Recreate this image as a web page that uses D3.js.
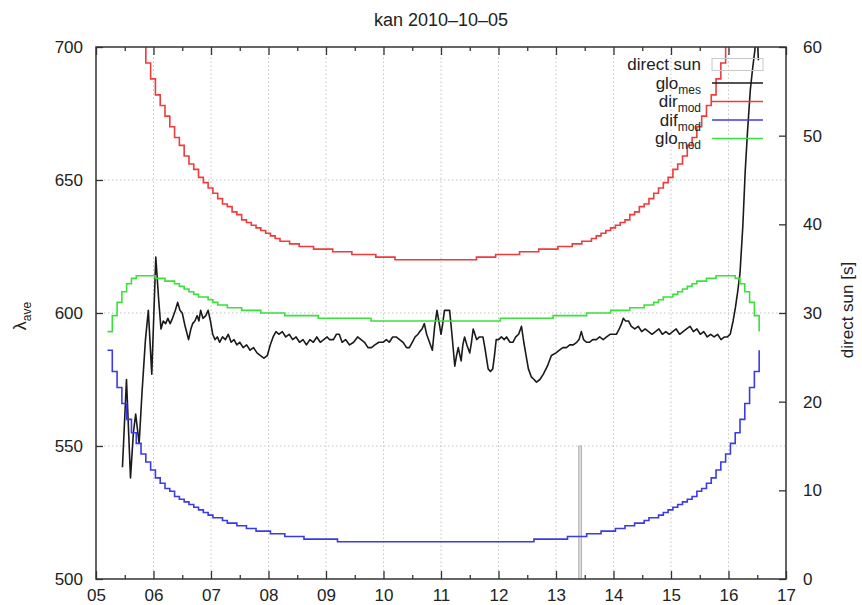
<!DOCTYPE html>
<html>
<head>
<meta charset="utf-8">
<script src="https://cdn.jsdelivr.net/npm/d3@7/dist/d3.min.js"></script>
<style>
  body { margin: 0; background: #fff; }
  svg { display: block; font-family: "Liberation Sans", Arial, sans-serif; }
</style>
</head>
<body>
<svg id="chart" width="862" height="605"></svg>
<script>
// --- data ---
const title = "kan 2010–10–05";
const xTicks = [5, 6, 7, 8, 9, 10, 11, 12, 13, 14, 15, 16, 17];
const leftTicks = [500, 550, 600, 650, 700];
const rightTicks = [0, 10, 20, 30, 40, 50, 60];

// model curves: one value every 5 minutes from 05:12
const modelStart = 5.2;
const modelStepMinutes = 5;
const dirMod = [785,768,753,740,728,718,709,701,694,688,682,678,674,670,666,663,659,656,654,651,649,647,645,643,641,640,638,637,635,634,633,632,631,630,629,628,627,627,626,626,625,625,625,624,624,624,624,623,623,623,623,622,622,622,622,622,621,621,621,621,620,620,620,620,620,620,620,620,620,
  620,620,620,620,620,620,620,620,621,621,621,621,622,622,622,622,622,623,623,623,623,624,624,624,624,625,625,625,626,626,627,627,628,629,630,631,632,633,634,635,637,638,640,641,643,645,647,649,651,654,656,659,663,666,670,674,678,682,688,694,701,709,718,728,740,753,768,785];
const difMod = [586,578,572,566,560,555,551,547,544,541,538,536,534,533,531,530,529,528,527,526,525,524,523,523,522,521,521,520,520,519,519,518,518,518,517,517,517,516,516,516,516,515,515,515,515,515,515,515,514,514,514,514,514,514,514,514,514,514,514,514,514,514,514,514,514,514,514,514,514,
  514,514,514,514,514,514,514,514,514,514,514,514,514,514,514,514,514,514,514,514,515,515,515,515,515,515,515,516,516,516,516,517,517,517,518,518,518,519,519,520,520,521,521,522,523,523,524,525,526,527,528,529,530,531,533,534,536,538,541,544,547,551,555,560,566,572,578,586];
const gloMod = [593,599,604,608,611,613,614,614,614,614,613,613,612,612,611,610,609,608,607,606,606,605,604,603,603,602,602,602,601,601,601,601,600,600,600,600,600,599,599,599,599,599,599,599,598,598,598,598,598,598,598,598,598,598,598,597,597,597,597,597,597,597,597,597,597,597,597,597,597,
  597,597,597,597,597,597,597,597,597,597,597,597,597,598,598,598,598,598,598,598,598,598,598,598,599,599,599,599,599,599,599,600,600,600,600,600,601,601,601,601,602,602,602,603,603,604,605,606,606,607,608,609,610,611,612,612,613,613,614,614,614,614,613,611,608,604,599,593];

// measured global
const gloMesHours = [5.46,5.53,5.60,5.65,5.69,5.75,5.80,5.86,5.91,5.97,6.04,6.09,6.13,6.17,6.21,6.25,6.29,6.33,6.38,6.42,6.46,6.50,6.55,6.61,6.65,6.68,6.72,6.76,6.79,6.82,6.86,6.91,6.95,6.99,
  7.03,7.07,7.11,7.15,7.20,7.25,7.30,7.35,7.40,7.45,7.50,7.56,7.62,7.68,7.74,7.80,7.86,7.92,7.98,8.03,8.08,8.13,8.18,8.24,8.30,8.36,8.42,8.48,8.54,8.60,8.66,8.72,8.78,8.84,8.90,8.96,
  9.02,9.06,9.13,9.18,9.23,9.28,9.34,9.41,9.48,9.55,9.61,9.67,9.73,9.79,9.85,9.92,9.99,10.05,10.10,10.16,10.22,10.28,10.34,10.40,10.45,10.50,10.55,10.60,10.63,10.67,10.71,10.75,10.80,10.85,10.89,10.93,10.97,
  11.00,11.03,11.06,11.10,11.15,11.19,11.24,11.27,11.30,11.33,11.35,11.38,11.41,11.45,11.50,11.53,11.56,11.59,11.62,11.67,11.73,11.77,11.82,11.86,11.90,11.93,11.96,
  12.00,12.05,12.10,12.14,12.20,12.25,12.30,12.35,12.40,12.44,12.48,12.52,12.57,12.62,12.66,12.72,12.78,12.85,12.92,13.00,13.06,13.12,13.18,13.24,13.30,13.36,13.40,13.44,13.48,13.53,13.58,13.64,13.70,13.76,13.82,13.88,13.94,
  14.00,14.05,14.10,14.14,14.17,14.21,14.26,14.31,14.37,14.43,14.49,14.55,14.61,14.67,14.73,14.79,14.85,14.91,14.97,15.03,15.09,15.15,15.21,15.27,15.33,15.39,15.45,15.51,15.57,15.63,15.69,15.75,15.81,15.87,15.93,15.98,
  16.03,16.08,16.12,16.16,16.20,16.25,16.29,16.33,16.38,16.42,16.46,16.48,16.50,16.52];
const gloMesValues = [542,575,538,555,562,551,570,590,601,577,621,605,594,597,596,598,596,598,601,604,601,600,595,590,594,596,597,599,597,601,598,599,601,597,
  592,590,591,589,591,590,592,589,590,588,589,587,588,586,587,585,584,583,584,588,591,593,592,593,591,592,590,591,589,590,588,590,589,591,589,590,
  591,590,590,592,592,589,590,588,589,591,590,589,587,587,588,589,589,590,589,591,591,590,589,587,587,589,591,592,593,594,596,592,589,586,595,601,596,
  592,596,601,601,601,592,580,584,587,584,582,588,591,588,585,589,594,592,590,591,591,586,579,578,579,584,590,
  590,591,590,591,589,589,591,592,595,589,584,579,576,575,574,575,577,580,584,585,586,587,587,588,588,589,590,593,590,589,589,590,590,591,590,591,592,
  592,592,594,596,598,597,597,595,594,595,593,594,593,592,593,594,592,593,592,593,594,592,593,594,595,593,594,592,593,591,592,591,592,590,591,591,
  592,597,602,608,615,633,653,668,684,692,699,712,704,695];

// direct sun duration [s]
const directSunHours = [13.42];
const directSunSeconds = [15];

const legendItems = [
  { name: "direct sun", sub: "", color: "#c8c8c8" },
  { name: "glo", sub: "mes", color: "#1a1a1a" },
  { name: "dir", sub: "mod", color: "#ee3b3b" },
  { name: "dif", sub: "mod", color: "#3b3be6" },
  { name: "glo", sub: "mod", color: "#3be03b" }
];

// --- layout ---
const margin = { top: 47, right: 76, bottom: 26, left: 96 };
const W = 862, H = 605;
const svg = d3.select("#chart");

const x = d3.scaleLinear().domain([5, 17]).range([margin.left, W - margin.right]);
const y = d3.scaleLinear().domain([500, 700]).range([H - margin.bottom, margin.top]);
const y2 = d3.scaleLinear().domain([0, 60]).range([H - margin.bottom, margin.top]);

const modelHours = dirMod.map((_, i) => modelStart + i * modelStepMinutes / 60);

svg.append("defs").append("clipPath").attr("id", "plot-clip")
  .append("rect")
  .attr("x", x(5)).attr("y", y(700))
  .attr("width", x(17) - x(5)).attr("height", y(500) - y(700));

// grid
const grid = svg.append("g").attr("stroke", "#c4c4c4").attr("stroke-width", 1)
  .attr("stroke-dasharray", "1.5,2.5");
grid.selectAll("line.gx").data(xTicks.slice(1, -1)).join("line")
  .attr("x1", d => x(d)).attr("x2", d => x(d))
  .attr("y1", y(500)).attr("y2", y(700));
grid.selectAll("line.gy").data(leftTicks.slice(1, -1)).join("line")
  .attr("x1", x(5)).attr("x2", x(17))
  .attr("y1", d => y(d)).attr("y2", d => y(d));

const plot = svg.append("g").attr("clip-path", "url(#plot-clip)");

// direct sun boxes
const barHalf = 0.025;
plot.selectAll("rect.sun").data(directSunHours).join("rect")
  .attr("x", d => x(d - barHalf))
  .attr("width", d => x(d + barHalf) - x(d - barHalf))
  .attr("y", (d, i) => y2(directSunSeconds[i]))
  .attr("height", (d, i) => y2(0) - y2(directSunSeconds[i]))
  .attr("fill", "#dadada").attr("stroke", "#b4b4b4").attr("stroke-width", 1);

// measured line
const mesLine = d3.line().x((d, i) => x(gloMesHours[i])).y(d => y(d));
plot.append("path").datum(gloMesValues)
  .attr("d", mesLine).attr("fill", "none")
  .attr("stroke", legendItems[1].color).attr("stroke-width", 1.6)
  .attr("stroke-linejoin", "round");

// model step lines
const stepLine = d3.line().curve(d3.curveStepAfter)
  .x((d, i) => x(modelHours[i])).y(d => y(d));
[[dirMod, 2], [difMod, 3], [gloMod, 4]].forEach(([vals, k]) => {
  plot.append("path").datum(vals)
    .attr("d", stepLine).attr("fill", "none")
    .attr("stroke", legendItems[k].color).attr("stroke-width", 1.6);
});

// axes
const fmt = d3.format("02d");
const halfHours = xTicks.slice(0, -1).map(d => d + 0.5);
const axBottom = svg.append("g").attr("transform", `translate(0,${y(500)})`)
  .call(d3.axisBottom(x).tickValues(xTicks).tickSize(-8).tickPadding(10).tickFormat(fmt));
const axBottomMinor = svg.append("g").attr("transform", `translate(0,${y(500)})`)
  .call(d3.axisBottom(x).tickValues(halfHours).tickSize(-4).tickFormat(""));
const axTop = svg.append("g").attr("transform", `translate(0,${y(700)})`)
  .call(d3.axisTop(x).tickValues(xTicks).tickSize(-8).tickFormat(""));
const axTopMinor = svg.append("g").attr("transform", `translate(0,${y(700)})`)
  .call(d3.axisTop(x).tickValues(halfHours).tickSize(-4).tickFormat(""));
const axLeft = svg.append("g").attr("transform", `translate(${x(5)},0)`)
  .call(d3.axisLeft(y).tickValues(leftTicks).tickSize(-7).tickPadding(13));
const axRight = svg.append("g").attr("transform", `translate(${x(17)},0)`)
  .call(d3.axisRight(y2).tickValues(rightTicks).tickSize(-7).tickPadding(17));

[axBottom, axBottomMinor, axTop, axTopMinor, axLeft, axRight].forEach(g => {
  g.select(".domain").remove();
  g.selectAll(".tick line").attr("stroke", "#333").attr("stroke-width", 1.3);
  g.selectAll(".tick text").attr("font-size", 17).attr("fill", "#222")
    .attr("font-family", "Liberation Sans, Arial, sans-serif");
});

// border
svg.append("rect")
  .attr("x", x(5)).attr("y", y(700))
  .attr("width", x(17) - x(5)).attr("height", y(500) - y(700))
  .attr("fill", "none").attr("stroke", "#333").attr("stroke-width", 1.5);

// title and axis labels
svg.append("text").attr("x", (x(5) + x(17)) / 2).attr("y", 26)
  .attr("text-anchor", "middle").attr("font-size", 18).attr("fill", "#222")
  .text(title);

const yl = svg.append("text")
  .attr("transform", `translate(26,${(y(500) + y(700)) / 2 + 3}) rotate(-90)`)
  .attr("text-anchor", "middle").attr("font-size", 18).attr("fill", "#222");
yl.append("tspan").text("λ");
yl.append("tspan").attr("dy", 5).attr("font-size", 12).text("ave");

svg.append("text")
  .attr("transform", `translate(853,${(y(500) + y(700)) / 2 - 3}) rotate(-90)`)
  .attr("text-anchor", "middle").attr("font-size", 17).attr("fill", "#222")
  .text("direct sun [s]");

// legend
const legend = svg.append("g");
const rowY = i => 64.5 + i * 18.5;
legendItems.forEach((item, i) => {
  const t = legend.append("text")
    .attr("x", 701).attr("y", rowY(i) + 5.5)
    .attr("text-anchor", "end").attr("font-size", 17).attr("fill", "#222");
  t.append("tspan").text(item.name);
  if (item.sub) t.append("tspan").attr("dy", 5).attr("font-size", 12).text(item.sub);
  if (i === 0) {
    legend.append("rect").attr("x", 712).attr("y", rowY(i) - 6)
      .attr("width", 51).attr("height", 12)
      .attr("fill", "none").attr("stroke", item.color).attr("stroke-width", 1);
  } else {
    legend.append("line").attr("x1", 712).attr("x2", 763)
      .attr("y1", rowY(i)).attr("y2", rowY(i))
      .attr("stroke", item.color).attr("stroke-width", 1.6);
  }
});
</script>
</body>
</html>
